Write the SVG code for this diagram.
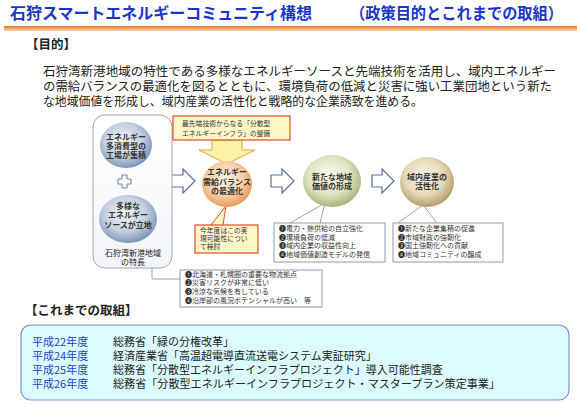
<svg xmlns="http://www.w3.org/2000/svg" width="577" height="407" viewBox="0 0 577 407">
<style>
text{font-family:"Noto Sans CJK JP","Noto Sans CJK SC",sans-serif;fill:#222}
.title{font-size:16px;font-weight:bold;fill:#1a35c8}
.head{font-size:12.5px;font-weight:bold;fill:#222}
.para{font-size:12.5px;fill:#222}
.ct{font-size:8px;font-weight:bold;fill:#333;text-anchor:middle}
.sm{font-size:7px;fill:#333}
.cl{font-size:6.8px;fill:#333}
.yr{font-size:11px;fill:#2040d0}
.row{font-size:11px;fill:#222}
.hol{fill:#fff;stroke:#5a6e9a;stroke-width:1.2}
.box{fill:#fff;stroke:#8a9ab8;stroke-width:1}
.ptr{stroke:#7a8aa8;stroke-width:0.8;fill:none}
.cal{fill:#fff7c8;stroke:#e04a2a;stroke-width:1.2}
</style>
<defs>
<linearGradient id="ol" x1="0" y1="0" x2="0" y2="1"><stop offset="0" stop-color="#e87a2a"/><stop offset="1" stop-color="#f8d2a8"/></linearGradient>
<linearGradient id="lb" x1="0" y1="0" x2="0" y2="1"><stop offset="0" stop-color="#ffffff"/><stop offset="1" stop-color="#f3f5f9"/></linearGradient>
<radialGradient id="gb" cx="0.45" cy="0.4" r="0.6"><stop offset="0" stop-color="#f4f6fa"/><stop offset="0.6" stop-color="#c4cfe0"/><stop offset="1" stop-color="#7f95b8"/></radialGradient>
<radialGradient id="go" cx="0.45" cy="0.4" r="0.6"><stop offset="0" stop-color="#fff4e8"/><stop offset="0.6" stop-color="#f8cfa6"/><stop offset="1" stop-color="#e89a58"/></radialGradient>
<radialGradient id="gg" cx="0.45" cy="0.4" r="0.6"><stop offset="0" stop-color="#fafbf0"/><stop offset="0.6" stop-color="#dfe5c2"/><stop offset="1" stop-color="#a7b57a"/></radialGradient>
<radialGradient id="gt" cx="0.45" cy="0.4" r="0.6"><stop offset="0" stop-color="#fbf6ea"/><stop offset="0.6" stop-color="#e6d9b8"/><stop offset="1" stop-color="#b39d6c"/></radialGradient>
</defs>

<g id="header">
<text class="title" x="10" y="19" textLength="302" lengthAdjust="spacingAndGlyphs">石狩スマートエネルギーコミュニティ構想</text>
<text class="title" x="350" y="19" textLength="213" lengthAdjust="spacingAndGlyphs">（政策目的とこれまでの取組）</text>
<rect x="4" y="26" width="573" height="5" fill="url(#ol)"/>
</g>

<g id="purpose">
<text class="head" x="26" y="49">【目的】</text>
<text class="para" x="43" y="76" textLength="513" lengthAdjust="spacingAndGlyphs">石狩湾新港地域の特性である多様なエネルギーソースと先端技術を活用し、域内エネルギー</text>
<text class="para" x="43" y="91" textLength="509" lengthAdjust="spacingAndGlyphs">の需給バランスの最適化を図るとともに、環境負荷の低減と災害に強い工業団地という新た</text>
<text class="para" x="43" y="106" textLength="380" lengthAdjust="spacingAndGlyphs">な地域価値を形成し、域内産業の活性化と戦略的な企業誘致を進める。</text>
</g>

<g id="connectors">
<path class="hol" d="M171,175 h12 v-6 l12,12 l-12,12 v-6 h-12 z"/>
<path class="hol" d="M271,175 h11 v-6 l12,12 l-12,12 v-6 h-11 z"/>
<path class="hol" d="M372,175 h10 v-6 l12,12 l-12,12 v-6 h-10 z"/>
<path d="M212,140 h30 v10 h13 l-28,14 l-28,-14 h13 z" fill="#fff3a8" stroke="#e8a040" stroke-width="1"/>
<path d="M211,225 L226,206 L223,225" fill="#fff7c8" stroke="#e04a2a" stroke-width="1"/>
<path class="ptr" d="M290,223 L325,203 L320,223"/>
<path class="ptr" d="M398,223 L423,205 L437,223"/>
<path class="ptr" d="M152,265 V279 H180"/>
<circle cx="152" cy="265" r="1.6" fill="#5a7ab0"/>
</g>

<g id="features">
<rect x="93" y="115" width="79" height="153" rx="12" fill="url(#lb)" stroke="#9aa6b8" stroke-width="1"/>
<ellipse cx="126" cy="145" rx="26" ry="23" fill="url(#gb)"/>
<text class="ct" x="126" y="139.5">エネルギー</text>
<text class="ct" x="126" y="148.5">多消費型の</text>
<text class="ct" x="126" y="157.5">工場が集積</text>
<path d="M122,175 h5 v4 h4 v5 h-4 v4 h-5 v-4 h-4 v-5 h4 z" fill="#fff" stroke="#6a7ea8" stroke-width="1"/>
<ellipse cx="128" cy="219" rx="29" ry="24" fill="url(#gb)"/>
<text class="ct" x="128" y="208.5">多様な</text>
<text class="ct" x="128" y="218">エネルギー</text>
<text class="ct" x="128" y="227.5">ソースが立地</text>
<text x="133" y="255.5" style="font-size:8px;text-anchor:middle">石狩湾新港地域</text>
<text x="133" y="264.5" style="font-size:8px;text-anchor:middle">の特長</text>
</g>

<g id="infra">
<rect class="cal" x="173" y="116" width="117" height="24"/>
<text class="cl" x="182" y="126">最先端技術からなる「分散型</text>
<text class="cl" x="182" y="135.5">エネルギーインフラ」の整備</text>
</g>

<g id="balance">
<ellipse cx="227" cy="184" rx="25" ry="23" fill="url(#go)"/>
<text class="ct" x="227" y="175">エネルギー</text>
<text class="ct" x="227" y="185">需給バランス</text>
<text class="ct" x="227" y="194">の最適化</text>
</g>

<g id="study">
<rect class="cal" x="195" y="225" width="63" height="28"/>
<text class="cl" x="200" y="233">今年度はこの実</text>
<text class="cl" x="200" y="241">現可能性につい</text>
<text class="cl" x="200" y="249">て検討</text>
</g>

<g id="value">
<ellipse cx="332" cy="181" rx="29" ry="26" fill="url(#gg)"/>
<text class="ct" x="332" y="180">新たな地域</text>
<text class="ct" x="332" y="189">価値の形成</text>
<rect class="box" x="274" y="223" width="111" height="39"/>
<text class="sm" x="279" y="231">❶電力・熱供給の自立強化</text>
<text class="sm" x="279" y="239.5">❷環境負荷の低減</text>
<text class="sm" x="279" y="248">❸域内企業の収益性向上</text>
<text class="sm" x="279" y="256.5">❹地域価値創造モデルの発信</text>
</g>

<g id="industry">
<ellipse cx="427" cy="182" rx="27" ry="25" fill="url(#gt)"/>
<text class="ct" x="427" y="179.5">域内産業の</text>
<text class="ct" x="427" y="188.5">活性化</text>
<rect class="box" x="393" y="223" width="110" height="39"/>
<text class="sm" x="398" y="231">❶新たな企業集積の促進</text>
<text class="sm" x="398" y="239.5">❷市域財政の強靭化</text>
<text class="sm" x="398" y="248">❸国土強靭化への貢献</text>
<text class="sm" x="398" y="256.5">❹地域コミュニティの醸成</text>
</g>

<g id="traits">
<rect class="box" x="180" y="270" width="142" height="37"/>
<text class="sm" x="185" y="276.5">❶北海道・札幌圏の重要な物流拠点</text>
<text class="sm" x="185" y="285">❷災害リスクが非常に低い</text>
<text class="sm" x="185" y="293.5">❸冷涼な気候を有している</text>
<text class="sm" x="185" y="302.5">❹沿岸部の風況ポテンシャルが高い　等</text>
</g>

<g id="history">
<text class="head" x="25" y="315">【これまでの取組】</text>
<rect x="21" y="325" width="548" height="75" rx="10" fill="#dcfbff" stroke="#7f8fd0" stroke-width="1.2"/>
<text class="yr" x="32" y="346">平成22年度</text>
<text class="row" x="113" y="346">総務省「緑の分権改革」</text>
<text class="yr" x="32" y="360">平成24年度</text>
<text class="row" x="113" y="360">経済産業省「高温超電導直流送電システム実証研究」</text>
<text class="yr" x="32" y="374">平成25年度</text>
<text class="row" x="113" y="374">総務省「分散型エネルギーインフラプロジェクト」導入可能性調査</text>
<text class="yr" x="32" y="388">平成26年度</text>
<text class="row" x="113" y="388" textLength="387" lengthAdjust="spacingAndGlyphs">総務省「分散型エネルギーインフラプロジェクト・マスタープラン策定事業」</text>
</g>
</svg>
